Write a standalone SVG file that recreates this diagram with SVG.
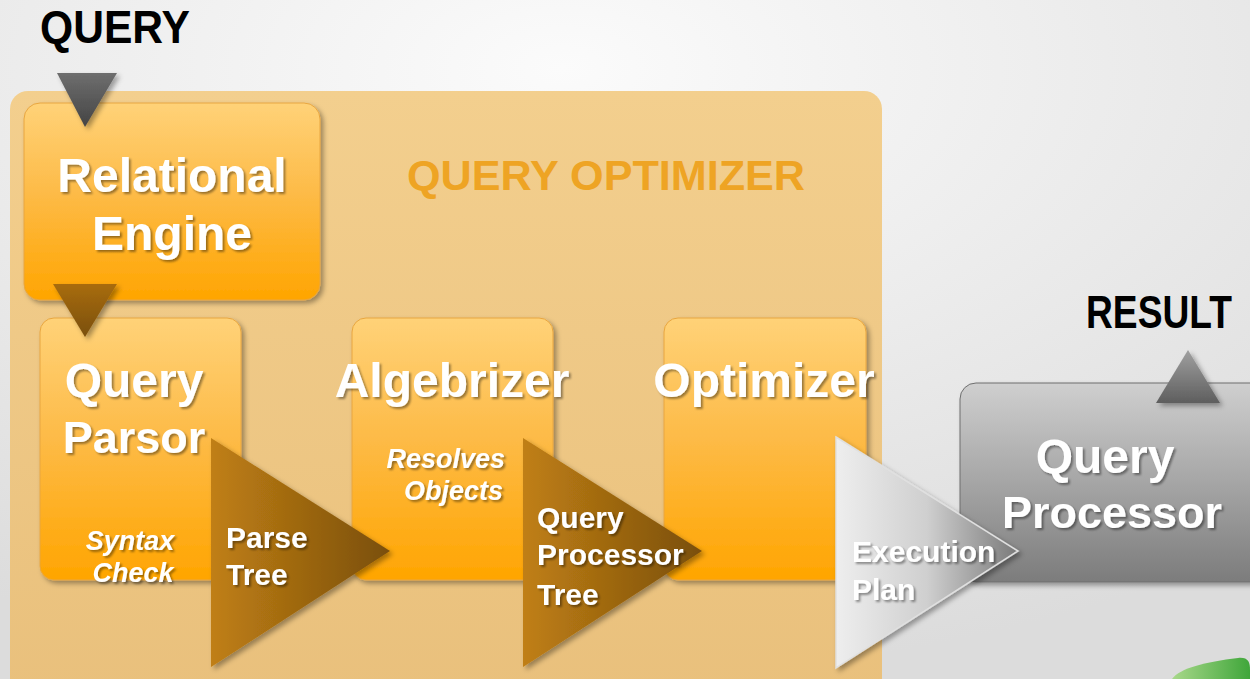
<svg xmlns="http://www.w3.org/2000/svg" width="1250" height="679" viewBox="0 0 1250 679">
<defs>
<radialGradient id="bg" cx="0.45" cy="0.1" r="0.9">
<stop offset="0" stop-color="#fbfbfb"/>
<stop offset="1" stop-color="#dcdcdc"/>
</radialGradient>
<linearGradient id="cont" x1="0" y1="0" x2="0" y2="1">
<stop offset="0" stop-color="#f3cf8e"/>
<stop offset="1" stop-color="#e9c07c"/>
</linearGradient>
<linearGradient id="orange" x1="0" y1="0" x2="0" y2="1">
<stop offset="0" stop-color="#ffd278"/>
<stop offset="0.45" stop-color="#fdbb48"/>
<stop offset="1" stop-color="#ffa500"/>
</linearGradient>
<linearGradient id="gray" x1="0" y1="0" x2="0" y2="1">
<stop offset="0" stop-color="#cfcfcf"/>
<stop offset="1" stop-color="#7c7c7c"/>
</linearGradient>
<linearGradient id="brown" x1="0" y1="0" x2="1" y2="0">
<stop offset="0" stop-color="#c07f14"/>
<stop offset="1" stop-color="#7a4f0c"/>
</linearGradient>
<linearGradient id="silver" x1="0" y1="0" x2="1" y2="0">
<stop offset="0" stop-color="#eeeeee"/>
<stop offset="0.5" stop-color="#cfcfcf"/>
<stop offset="1" stop-color="#7a7a7a"/>
</linearGradient>
<linearGradient id="darkdown" x1="0" y1="0" x2="0" y2="1">
<stop offset="0" stop-color="#6e6e6e"/>
<stop offset="1" stop-color="#444444"/>
</linearGradient>
<linearGradient id="browndown" x1="0" y1="0" x2="0" y2="1">
<stop offset="0" stop-color="#a86c10"/>
<stop offset="1" stop-color="#7a4f0c"/>
</linearGradient>
<linearGradient id="grayup" x1="0" y1="0" x2="0" y2="1">
<stop offset="0" stop-color="#a0a0a0"/>
<stop offset="1" stop-color="#5e5e5e"/>
</linearGradient>
<linearGradient id="green" x1="0" y1="0" x2="1" y2="0">
<stop offset="0" stop-color="#a8d88a"/>
<stop offset="1" stop-color="#3fa63a"/>
</linearGradient>
<filter id="sh" x="-10%" y="-10%" width="130%" height="130%">
<feDropShadow dx="3" dy="3" stdDeviation="2.5" flood-color="#000" flood-opacity="0.35"/>
</filter>
<filter id="tsh" x="-10%" y="-20%" width="130%" height="150%">
<feDropShadow dx="2" dy="2" stdDeviation="1.2" flood-color="#000" flood-opacity="0.4"/>
</filter>
</defs>
<style>
.title{font-family:"Liberation Sans",Arial,sans-serif;font-weight:bold;fill:#ffffff;text-anchor:middle;font-size:48px;}
.t45{font-size:45px;}
.ital{font-family:"Liberation Sans",Arial,sans-serif;font-weight:bold;font-style:italic;fill:#ffffff;font-size:27px;}
.lbl{font-family:"Liberation Sans",Arial,sans-serif;font-weight:bold;fill:#ffffff;font-size:30px;}
.head{font-family:"Liberation Sans",Arial,sans-serif;font-weight:bold;fill:#000000;}
.box{fill:url(#orange);stroke:#e8a640;stroke-width:1;}
</style>
<rect x="0" y="0" width="1250" height="679" fill="url(#bg)"/>
<path d="M1172,679 C1180,668 1205,662 1238,658 C1248,657 1250,662 1250,670 L1250,679 Z" fill="url(#green)"/>

<g id="query-optimizer">
<rect x="10" y="91" width="872" height="610" rx="18" fill="url(#cont)"/>
<text x="606" y="190" font-family="'Liberation Sans',Arial,sans-serif" font-weight="bold" font-size="42" fill="#eea424" text-anchor="middle" textLength="398" lengthAdjust="spacingAndGlyphs">QUERY OPTIMIZER</text>
</g>

<g id="query-label">
<text class="head" x="40" y="43" font-size="46" textLength="150" lengthAdjust="spacingAndGlyphs">QUERY</text>
</g>

<g id="relational-engine">
<rect class="box" x="24" y="103" width="296" height="197" rx="16" filter="url(#sh)"/>
<text class="title" x="172" y="192" filter="url(#tsh)">Relational</text>
<text class="title" x="172" y="250" filter="url(#tsh)">Engine</text>
</g>

<g id="query-parsor">
<rect class="box" x="40" y="318" width="201" height="262" rx="14" filter="url(#sh)"/>
<text class="title" x="134" y="397" filter="url(#tsh)">Query</text>
<text class="title t45" x="134" y="453" filter="url(#tsh)">Parsor</text>
<text class="ital" x="130" y="550" text-anchor="middle" filter="url(#tsh)">Syntax</text>
<text class="ital" x="133" y="582" text-anchor="middle" filter="url(#tsh)">Check</text>
</g>

<g id="algebrizer">
<rect class="box" x="352" y="318" width="201" height="262" rx="14" filter="url(#sh)"/>
<text class="title" x="452" y="397" filter="url(#tsh)">Algebrizer</text>
<text class="ital" x="505" y="468" text-anchor="end" filter="url(#tsh)">Resolves</text>
<text class="ital" x="503" y="500" text-anchor="end" filter="url(#tsh)">Objects</text>
</g>

<g id="optimizer">
<rect class="box" x="664" y="318" width="202" height="262" rx="14" filter="url(#sh)"/>
<text class="title" x="764" y="397" filter="url(#tsh)">Optimizer</text>
</g>

<g id="query-processor">
<rect x="960" y="383" width="320" height="199" rx="16" fill="url(#gray)" stroke="#6e6e6e" stroke-width="1" filter="url(#sh)"/>
<text class="title" x="1105" y="473" filter="url(#tsh)">Query</text>
<text class="title t45" x="1112" y="528" filter="url(#tsh)">Processor</text>
</g>

<g id="result-label">
<text class="head" transform="translate(1086,328) scale(1,1.2)" x="0" y="0" font-size="38" textLength="146" lengthAdjust="spacingAndGlyphs">RESULT</text>
</g>

<g id="connectors">
<polygon points="57,73 117,73 85,127" fill="url(#darkdown)" filter="url(#sh)"/>
<polygon points="53,284 117,284 85,337" fill="url(#browndown)" filter="url(#sh)"/>
<polygon points="1156,403 1220,403 1188,350" fill="url(#grayup)" filter="url(#sh)"/>
<g id="parse-tree">
<polygon points="211,438 390,551 211,667" fill="url(#brown)" filter="url(#sh)"/>
<text class="lbl" x="226" y="548" filter="url(#tsh)">Parse</text>
<text class="lbl" x="226" y="585" filter="url(#tsh)">Tree</text>
</g>
<g id="query-processor-tree">
<polygon points="523,438 702,551 523,667" fill="url(#brown)" filter="url(#sh)"/>
<text class="lbl" x="537" y="528" filter="url(#tsh)">Query</text>
<text class="lbl" x="537" y="565" filter="url(#tsh)">Processor</text>
<text class="lbl" x="537" y="605" filter="url(#tsh)">Tree</text>
</g>
<g id="execution-plan">
<polygon points="836,437 1018,551 836,668" fill="url(#silver)" stroke="#e0e0e0" stroke-width="1.5" filter="url(#sh)"/>
<text class="lbl" x="852" y="562" filter="url(#tsh)">Execution</text>
<text class="lbl" x="852" y="600" filter="url(#tsh)">Plan</text>
</g>
</g>
</svg>
